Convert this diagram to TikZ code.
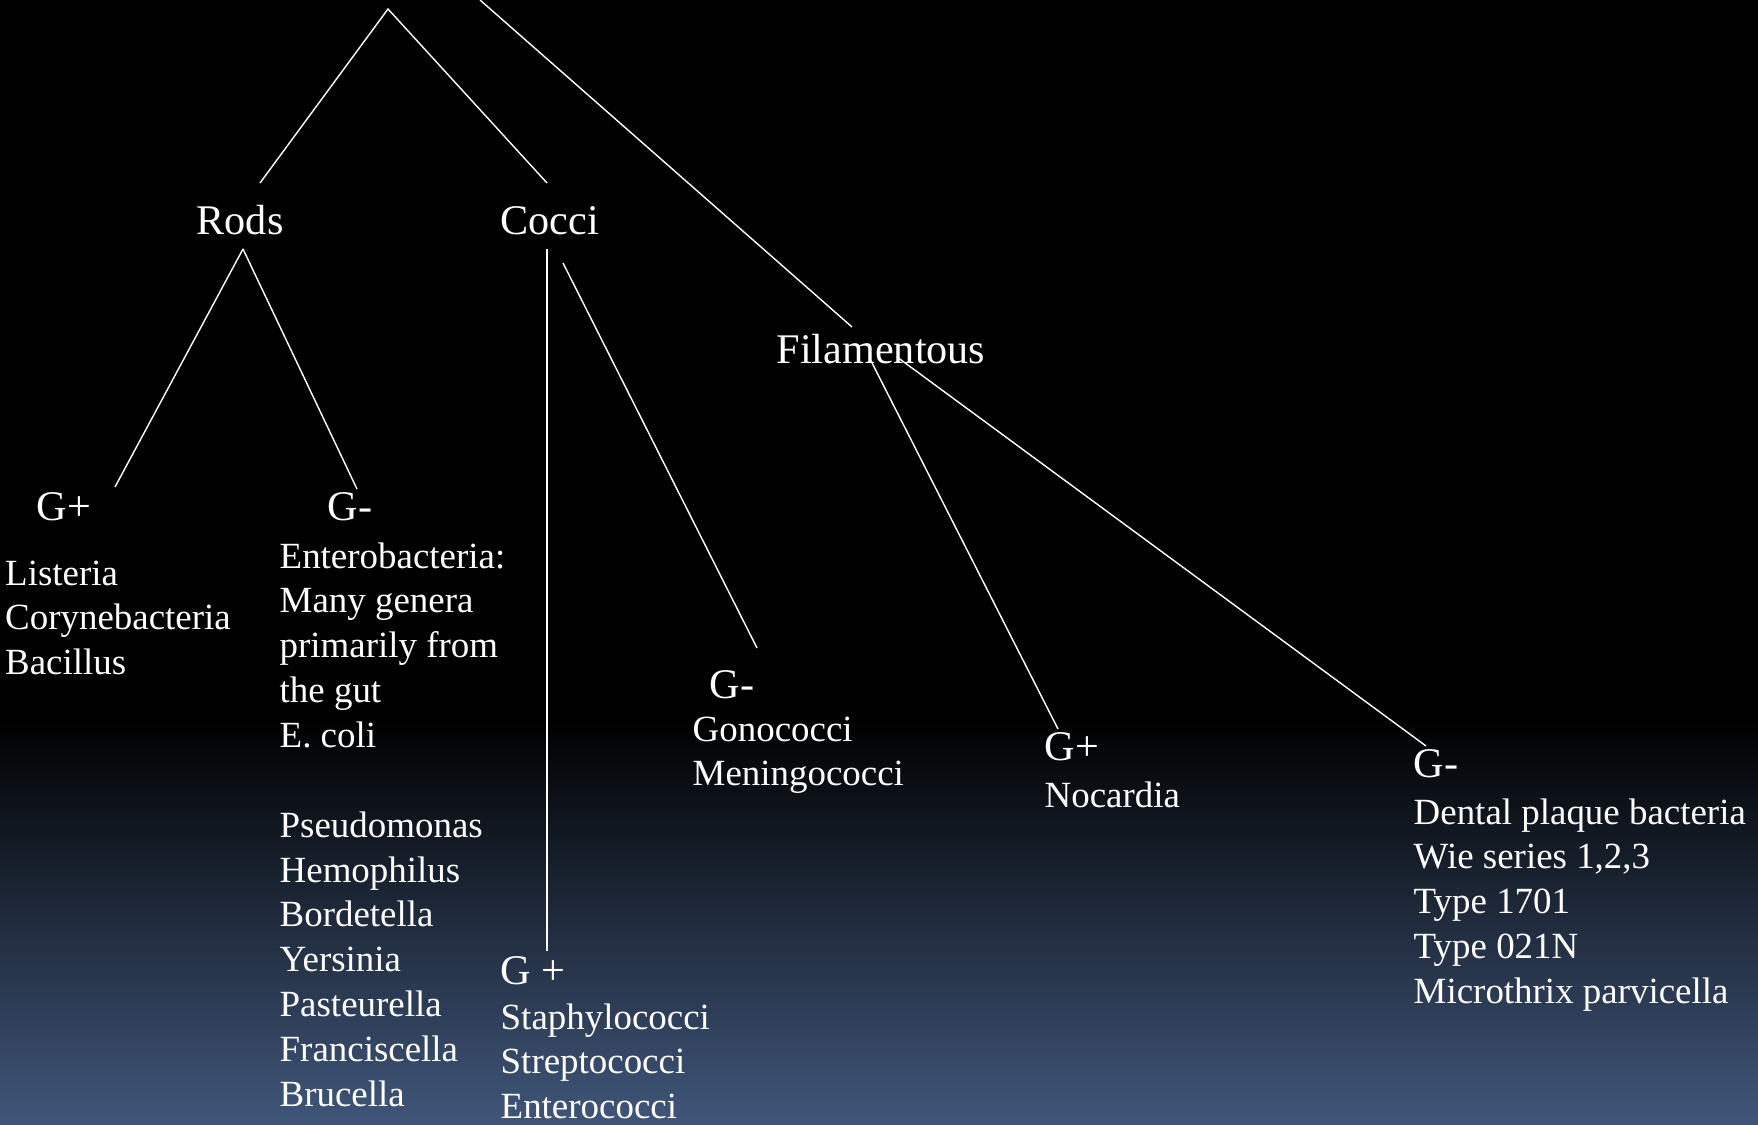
\documentclass[tikz,border=0pt]{standalone}
\usepackage{fontspec}
\setmainfont{Liberation Serif}
\definecolor{bgbot}{RGB}{64,86,122}
\tikzset{
  head/.style={anchor=base west, inner sep=0pt, text=white, font=\fontsize{12}{14.4}\selectfont},
  lst/.style={anchor=base west, inner sep=0pt, text=white, align=left, font=\fontsize{10.5}{12.75}\selectfont},
  link/.style={draw=white, line width=0.4pt}
}
\begin{document}
\begin{tikzpicture}[x=0.01cm, y=-0.01cm]
\useasboundingbox (0,0) rectangle (1758,1125);
\fill[black] (0,0) rectangle (1758,721);
\shade[top color=black, bottom color=bgbot] (0,720) rectangle (1758,1125);

% headings
\node[head] (rods) at (196,235) {Rods};
\node[head] (cocci) at (500,235) {Cocci};
\node[head] (fil) at (776,364) {Filamentous};
\node[head] (rgp) at (36,521) {G+};
\node[head] (rgm) at (327,521) {G-};
\node[head] (cgm) at (709,698) {G-};
\node[head] (cgp) at (500,984) {G +};
\node[head] (fgp) at (1044,760) {G+};
\node[head] (fgm) at (1413,777) {G-};

% lists (base anchor lies at the last line)
\node[lst] (l1) at (4.5,674.7) {Listeria\\Corynebacteria\\Bacillus};
\node[lst] (l2) at (279,1106.2) {Enterobacteria:\\Many genera\\primarily from\\the gut\\E. coli\\[12.75pt]Pseudomonas\\Hemophilus\\Bordetella\\Yersinia\\Pasteurella\\Franciscella\\Brucella};
\node[lst] (l3) at (692,785.9) {Gonococci\\Meningococci};
\node[lst] (l4) at (500,1118.7) {Staphylococci\\Streptococci\\Enterococci};
\node[lst] (l5) at (1044,807) {Nocardia};
\node[lst] (l6) at (1413,1003.4) {Dental plaque bacteria\\Wie series 1,2,3\\Type 1701\\Type 021N\\Microthrix parvicella};

% connector end points
\coordinate (root) at (388,9);
\coordinate (topin) at (480,0);
\coordinate (filT) at (852,327);
\coordinate (rodsT) at (260,183);
\coordinate (coccT) at (547,183);
\coordinate (rodsB) at (243,249);
\coordinate (rgpT) at (115,487);
\coordinate (rgmT) at (357,489);
\coordinate (coccB) at (547,249);
\coordinate (cgpT) at (547,951);
\coordinate (coccB2) at (563,263);
\coordinate (cgmT) at (757,648);
\coordinate (filB1) at (869,357);
\coordinate (fgpT) at (1058,729);
\coordinate (filB2) at (897,357);
\coordinate (fgmT) at (1426,746);

\draw[link] (rodsT) -- (root) -- (coccT);
\draw[link] (topin) -- (filT);
\draw[link] (rodsB) -- (rgpT);
\draw[link] (rodsB) -- (rgmT);
\draw[link] (coccB) -- (cgpT);
\draw[link] (coccB2) -- (cgmT);
\draw[link] (filB1) -- (fgpT);
\draw[link] (filB2) -- (fgmT);
\end{tikzpicture}
\end{document}
